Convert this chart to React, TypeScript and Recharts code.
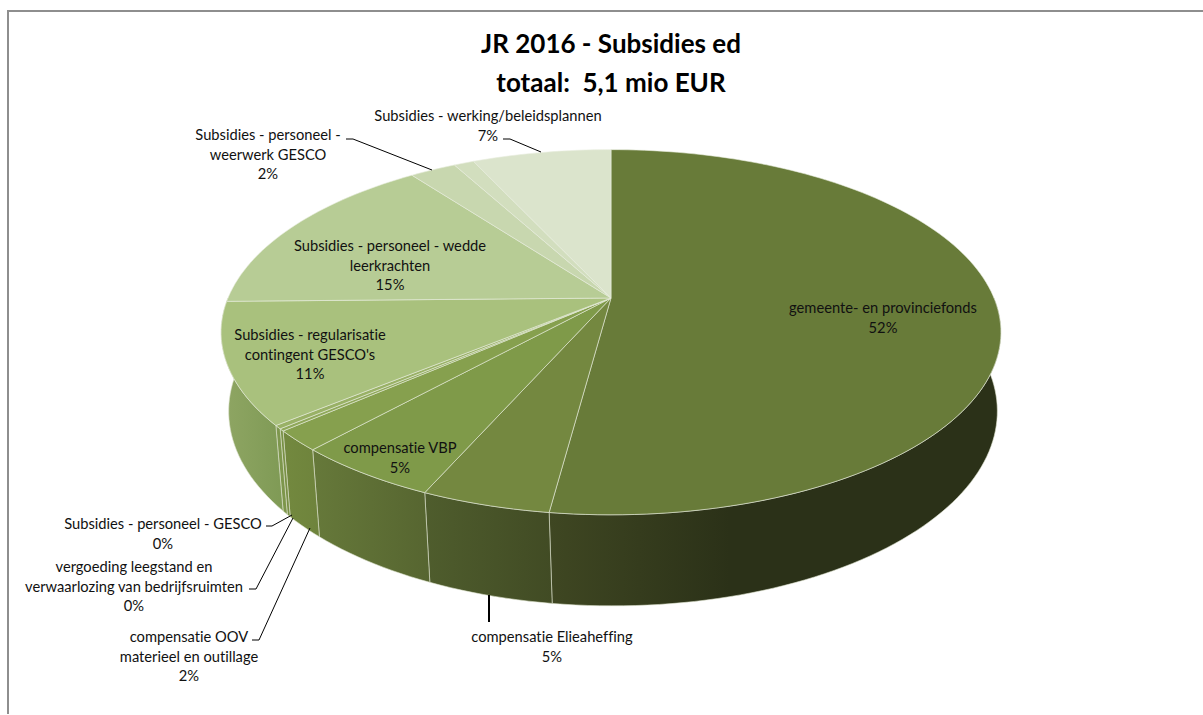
// App.tsx
// 3D-style pie of the 2016 subsidies. Recharts computes the slice angles, the
// shape callbacks project them onto a tilted disc with a side wall.

import { PieChart, Pie, Cell } from 'recharts'

const CATEGORIES = [
  'gemeente- en provinciefonds',
  'compensatie Elieaheffing',
  'compensatie VBP',
  'compensatie OOV materieel en outillage',
  'Subsidies - personeel - GESCO',
  'vergoeding leegstand en verwaarlozing van bedrijfsruimten',
  "Subsidies - regularisatie contingent GESCO's",
  'Subsidies - personeel - wedde leerkrachten',
  'Subsidies - personeel - weerwerk GESCO',
  'Subsidies - overige',
  'Subsidies - werking/beleidsplannen',
]
const SHARES = [52.1, 4.5, 5.1, 1.8, 0.2, 0.3, 10.7, 15.1, 2.3, 1.0, 6.9]

const TITLE_LINES = ['JR 2016 - Subsidies ed', 'totaal:  5,1 mio EUR']

const TOP_COLORS = [
  '#687B39', '#748840', '#7F9A49', '#86A04E', '#8FA85A', '#99B166',
  '#A9C17D', '#B7CC95', '#C8D7AF', '#D2DEBE', '#DBE4CC',
]
const WALL_SHADES = [
  ['#3F4722', '#2B3118'], ['#4F5D2D', '#414B24'], ['#66793A', '#566530'],
  ['#73893F', '#6E833C'], ['#7A9247', '#778E44'], ['#7F9850', '#7C9549'],
  ['#8FA664', '#7F9A55'], ['#8FA664', '#8FA664'], ['#8FA664', '#8FA664'],
  ['#8FA664', '#8FA664'], ['#8FA664', '#8FA664'],
]

// disc projection
const CX = 611
const CY = 298
const RADIUS = 383
const SQUASH = 0.46
const TILT = -0.1874
const WALL_DEPTH = 78.3
const WALL_SHRINK = 0.014
const WALL_SHIFT = 2

const FONT = 'Lato, Carlito, sans-serif'
const LABEL_SIZE = 14.7

interface LabelSpot {
  x: number
  y: number
  lines: string[]
  leader?: number[][]
  leaderWidth?: number
}

// hand-placed data labels, y is the middle of the first line
const LABEL_SPOTS: Record<number, LabelSpot> = {
  0: { x: 883, y: 307, lines: ['gemeente- en provinciefonds'] },
  1: {
    x: 552, y: 636, lines: ['compensatie Elieaheffing'],
    leader: [[489, 595], [489, 622]], leaderWidth: 2,
  },
  2: { x: 400, y: 447, lines: ['compensatie VBP'] },
  3: {
    x: 189, y: 636, lines: ['compensatie OOV', 'materieel en outillage'],
    leader: [[252, 640], [259, 640], [310, 528]],
  },
  4: {
    x: 163, y: 523, lines: ['Subsidies - personeel - GESCO'],
    leader: [[266, 526], [272, 526], [292, 515]],
  },
  5: {
    x: 134, y: 566, lines: ['vergoeding leegstand en', 'verwaarlozing van bedrijfsruimten'],
    leader: [[249, 589], [256, 589], [293, 518]],
  },
  6: { x: 310, y: 334, lines: ['Subsidies - regularisatie', "contingent GESCO's"] },
  7: { x: 390, y: 245, lines: ['Subsidies - personeel - wedde', 'leerkrachten'] },
  8: {
    x: 268, y: 134, lines: ['Subsidies - personeel -', 'weerwerk GESCO'],
    leader: [[346, 139], [353, 139], [432, 170]],
  },
  10: {
    x: 488, y: 115, lines: ['Subsidies - werking/beleidsplannen'],
    leader: [[503, 139], [510, 139], [541, 152]],
  },
}

const pieData = CATEGORIES.map((name, i) => ({ name, value: SHARES[i] }))

function project(cx: number, cy: number, r: number, angle: number, lower = false) {
  const rad = (angle * Math.PI) / 180
  const u = Math.cos(rad)
  const v = -Math.sin(rad)
  const denom = 1 + TILT * v + (lower ? WALL_SHRINK : 0)
  return {
    x: cx + (r * u) / denom + (lower ? WALL_SHIFT : 0),
    y: cy + (SQUASH * r * v + (lower ? WALL_DEPTH : 0)) / denom,
  }
}

function arcPoints(cx: number, cy: number, r: number, from: number, to: number, lower = false) {
  const steps = Math.max(2, Math.ceil(Math.abs(to - from) / 1.5))
  const pts: string[] = []
  for (let i = 0; i <= steps; i++) {
    const p = project(cx, cy, r, from + ((to - from) * i) / steps, lower)
    pts.push(`${p.x.toFixed(2)} ${p.y.toFixed(2)}`)
  }
  return pts
}

function TopSlice(props: any) {
  const { cx, cy, outerRadius, startAngle, endAngle, fill } = props
  const rim = arcPoints(cx, cy, outerRadius, startAngle, endAngle)
  return (
    <path
      d={`M${cx} ${cy}L${rim.join('L')}Z`}
      fill={fill}
      stroke="#E8ECDD"
      strokeWidth={0.6}
      strokeLinejoin="round"
    />
  )
}

function WallSlice(props: any) {
  const { cx, cy, outerRadius, startAngle, endAngle, index } = props
  // only the front half of the disc shows its wall
  const hi = Math.min(startAngle, 0)
  const lo = Math.max(endAngle, -180)
  if (hi <= lo) return null
  const upper = arcPoints(cx, cy, outerRadius, hi, lo)
  const lower = arcPoints(cx, cy, outerRadius, lo, hi, true)
  return (
    <path
      d={`M${upper.join('L')}L${lower.join('L')}Z`}
      fill={`url(#wall-${index})`}
      stroke="#DDE2CF"
      strokeWidth={0.6}
    />
  )
}

function SliceLabel(props: any) {
  const { index, value } = props
  const spot = LABEL_SPOTS[index]
  if (!spot) return null
  const lines = [...spot.lines, `${Math.round(value)}%`]
  return (
    <g>
      {spot.leader && (
        <polyline
          points={spot.leader.map((p) => p.join(',')).join(' ')}
          fill="none"
          stroke="#000"
          strokeWidth={spot.leaderWidth ?? 1}
        />
      )}
      {lines.map((line, i) => (
        <text
          key={i}
          x={spot.x}
          y={spot.y + i * 19.5}
          textAnchor="middle"
          dominantBaseline="central"
          fontFamily={FONT}
          fontSize={LABEL_SIZE}
          fill="#111"
          style={{ fontVariantLigatures: 'none' }}
        >
          {line}
        </text>
      ))}
    </g>
  )
}

export default function App() {
  return (
    <div style={{ position: 'absolute', left: 0, top: 0, width: 1203, height: 715, background: '#fff', overflow: 'hidden' }}>
      <div
        style={{
          position: 'absolute', left: 7, top: 10, right: 0, bottom: 1,
          borderLeft: '2px solid #8E8E8E', borderTop: '2px solid #8E8E8E',
        }}
      />
      <div style={{ position: 'absolute', left: 0, top: 0 }}>
        <PieChart width={1203} height={715} margin={{ top: 0, right: 0, bottom: 0, left: 0 }}>
          <defs>
            {WALL_SHADES.map(([from, to], i) => (
              <linearGradient key={i} id={`wall-${i}`} x1="0" y1="0" x2={i === 0 ? '0.4' : '1'} y2="0">
                <stop offset="0" stopColor={from} />
                <stop offset="1" stopColor={to} />
              </linearGradient>
            ))}
          </defs>
          {TITLE_LINES.map((line, i) => (
            <text
              key={line}
              x={611}
              y={43 + i * 39}
              textAnchor="middle"
              dominantBaseline="central"
              fontFamily={FONT}
              fontWeight={700}
              fontSize={26}
              fill="#000"
              xmlSpace="preserve"
            >
              {line}
            </text>
          ))}
          <Pie
            data={pieData}
            dataKey="value"
            cx={CX}
            cy={CY}
            outerRadius={RADIUS}
            startAngle={90}
            endAngle={-270}
            shape={WallSlice}
            isAnimationActive={false}
          />
          <Pie
            data={pieData}
            dataKey="value"
            cx={CX}
            cy={CY}
            outerRadius={RADIUS}
            startAngle={90}
            endAngle={-270}
            shape={TopSlice}
            label={SliceLabel}
            labelLine={false}
            isAnimationActive={false}
          >
            {pieData.map((_, i) => (
              <Cell key={i} fill={TOP_COLORS[i]} />
            ))}
          </Pie>
        </PieChart>
      </div>
    </div>
  )
}
